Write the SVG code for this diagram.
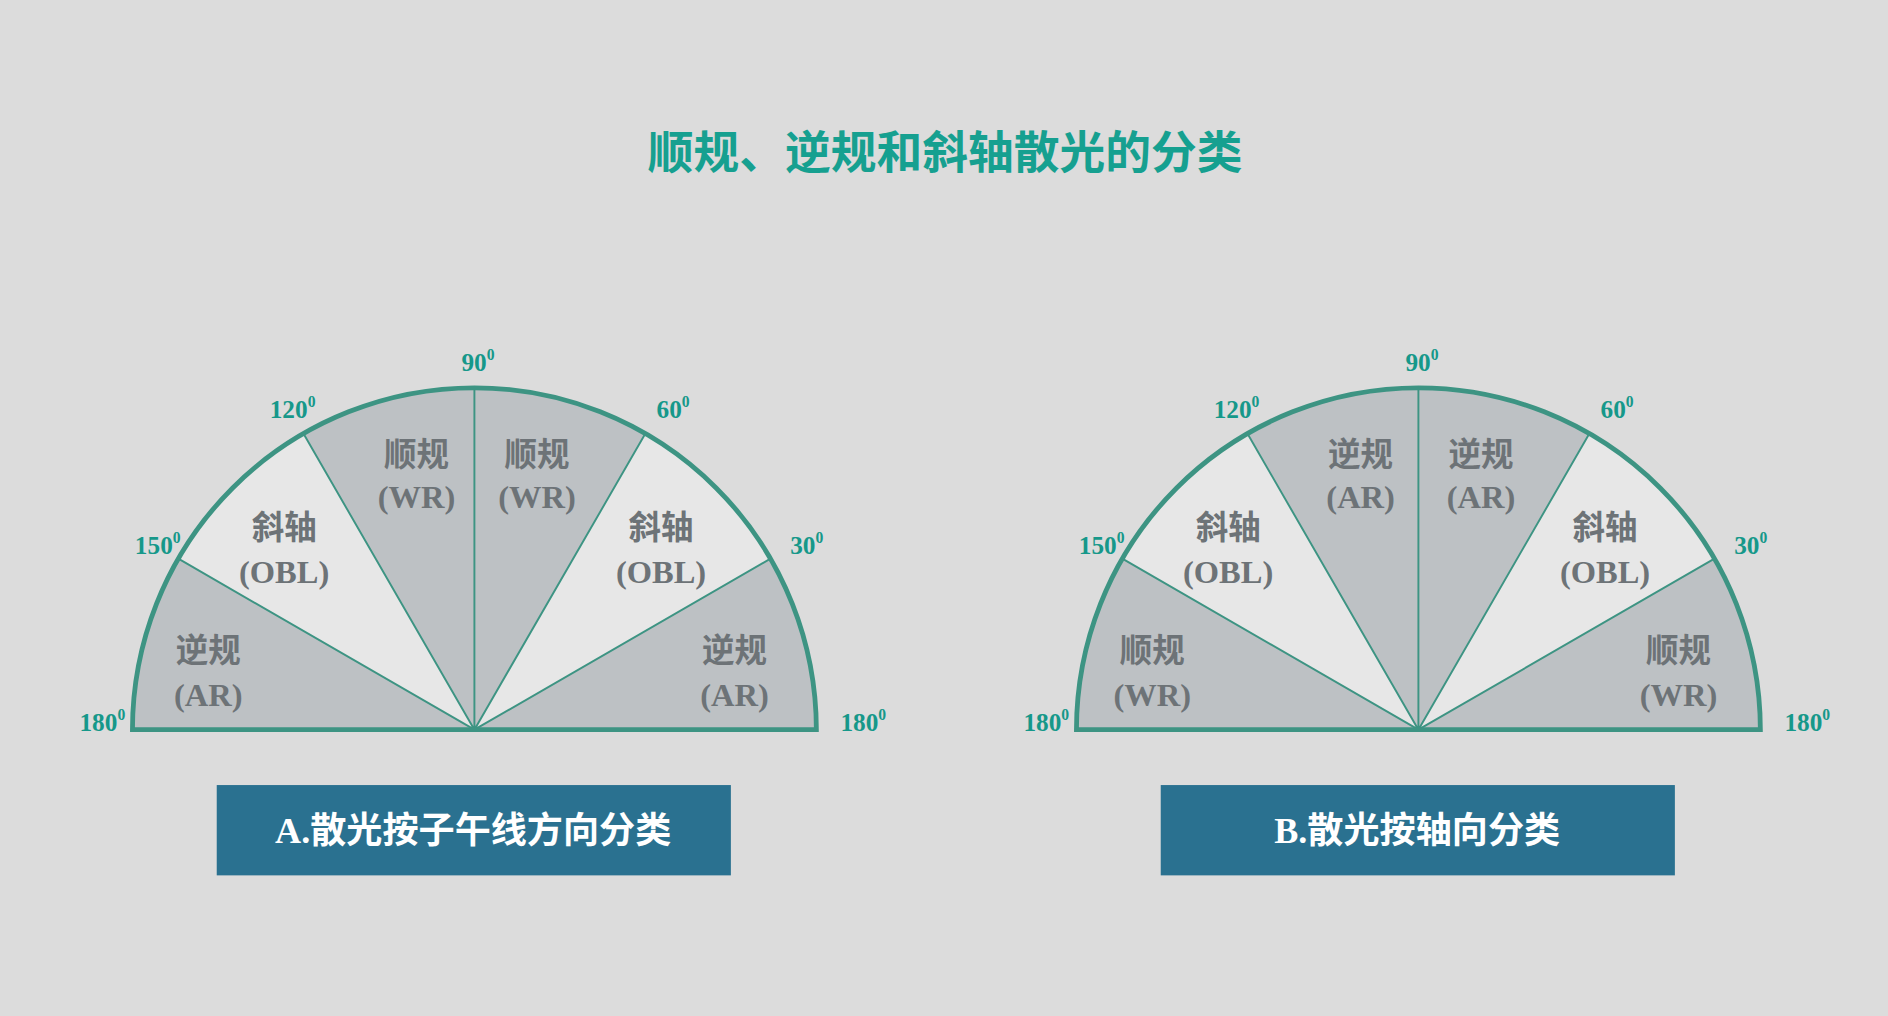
<svg xmlns="http://www.w3.org/2000/svg" width="1888" height="1016" viewBox="0 0 1888 1016">
<style>
.dk{fill:#bdc1c4}.lt{fill:#e7e7e7}
.ln{stroke:#3d9483;stroke-width:1.6;fill:none}
.arc{stroke:#3d9483;stroke-width:4;fill:none}
.deg{font-family:"Liberation Serif","Noto Sans CJK SC",serif;font-weight:bold;font-size:21px;fill:#16988a;text-anchor:middle}
.sup{font-size:13px}
.lab{font-family:"Liberation Serif","Noto Sans CJK SC",serif;font-weight:bold;font-size:27px;fill:#6d7377;text-anchor:middle}
.box{fill:#2a7190}
.bt{font-family:"Liberation Serif","Noto Sans CJK SC",serif;font-weight:bold;font-size:30px;fill:#ffffff;text-anchor:middle}
</style>
<rect width="1888" height="1016" fill="#dcdcdc"/>
<g transform="scale(1.20408)">
<text x="785" y="140" font-family="'Noto Sans CJK SC',serif" font-weight="bold" font-size="38" fill="#16a090" text-anchor="middle">顺规、逆规和斜轴散光的分类</text>
<g id="left">
<path class="dk" d="M394,606 L110,606 A284,284 0 0 1 148.1,464 Z"/>
<path class="lt" d="M394,606 L148.1,464 A284,284 0 0 1 252,360.1 Z"/>
<path class="dk" d="M394,606 L252,360.1 A284,284 0 0 1 536,360.1 Z"/>
<path class="lt" d="M394,606 L536,360.1 A284,284 0 0 1 639.9,464 Z"/>
<path class="dk" d="M394,606 L639.9,464 A284,284 0 0 1 678,606 Z"/>
<path class="ln" d="M394,606 L148.1,464 M394,606 L252,360.1 M394,606 L394,322 M394,606 L536,360.1 M394,606 L639.9,464"/>
<path class="arc" d="M110,606 A284,284 0 0 1 678,606 Z"/>
<text class="lab" x="346" y="387">顺规</text><text class="lab" x="346" y="422">(WR)</text>
<text class="lab" x="446" y="387">顺规</text><text class="lab" x="446" y="422">(WR)</text>
<text class="lab" x="236" y="448">斜轴</text><text class="lab" x="236" y="484">(OBL)</text>
<text class="lab" x="549" y="448">斜轴</text><text class="lab" x="549" y="484">(OBL)</text>
<text class="lab" x="173" y="550">逆规</text><text class="lab" x="173" y="586">(AR)</text>
<text class="lab" x="610" y="550">逆规</text><text class="lab" x="610" y="586">(AR)</text>
<text class="deg" x="397" y="308">90<tspan class="sup" dy="-9">0</tspan></text>
<text class="deg" x="243" y="347">120<tspan class="sup" dy="-9">0</tspan></text>
<text class="deg" x="559" y="347">60<tspan class="sup" dy="-9">0</tspan></text>
<text class="deg" x="131" y="460">150<tspan class="sup" dy="-9">0</tspan></text>
<text class="deg" x="670" y="460">30<tspan class="sup" dy="-9">0</tspan></text>
<text class="deg" x="85" y="607">180<tspan class="sup" dy="-9">0</tspan></text>
<text class="deg" x="717" y="607">180<tspan class="sup" dy="-9">0</tspan></text>
</g>
<g id="boxA"><rect class="box" x="180" y="652" width="427" height="75"/><text class="bt" x="393" y="700">A.散光按子午线方向分类</text></g>
<g id="right" transform="translate(784,0)">
<path class="dk" d="M394,606 L110,606 A284,284 0 0 1 148.1,464 Z"/>
<path class="lt" d="M394,606 L148.1,464 A284,284 0 0 1 252,360.1 Z"/>
<path class="dk" d="M394,606 L252,360.1 A284,284 0 0 1 536,360.1 Z"/>
<path class="lt" d="M394,606 L536,360.1 A284,284 0 0 1 639.9,464 Z"/>
<path class="dk" d="M394,606 L639.9,464 A284,284 0 0 1 678,606 Z"/>
<path class="ln" d="M394,606 L148.1,464 M394,606 L252,360.1 M394,606 L394,322 M394,606 L536,360.1 M394,606 L639.9,464"/>
<path class="arc" d="M110,606 A284,284 0 0 1 678,606 Z"/>
<text class="lab" x="346" y="387">逆规</text><text class="lab" x="346" y="422">(AR)</text>
<text class="lab" x="446" y="387">逆规</text><text class="lab" x="446" y="422">(AR)</text>
<text class="lab" x="236" y="448">斜轴</text><text class="lab" x="236" y="484">(OBL)</text>
<text class="lab" x="549" y="448">斜轴</text><text class="lab" x="549" y="484">(OBL)</text>
<text class="lab" x="173" y="550">顺规</text><text class="lab" x="173" y="586">(WR)</text>
<text class="lab" x="610" y="550">顺规</text><text class="lab" x="610" y="586">(WR)</text>
<text class="deg" x="397" y="308">90<tspan class="sup" dy="-9">0</tspan></text>
<text class="deg" x="243" y="347">120<tspan class="sup" dy="-9">0</tspan></text>
<text class="deg" x="559" y="347">60<tspan class="sup" dy="-9">0</tspan></text>
<text class="deg" x="131" y="460">150<tspan class="sup" dy="-9">0</tspan></text>
<text class="deg" x="670" y="460">30<tspan class="sup" dy="-9">0</tspan></text>
<text class="deg" x="85" y="607">180<tspan class="sup" dy="-9">0</tspan></text>
<text class="deg" x="717" y="607">180<tspan class="sup" dy="-9">0</tspan></text>
</g>
<g id="boxB"><rect class="box" x="964" y="652" width="427" height="75"/><text class="bt" x="1177" y="700">B.散光按轴向分类</text></g>
</g>
</svg>
